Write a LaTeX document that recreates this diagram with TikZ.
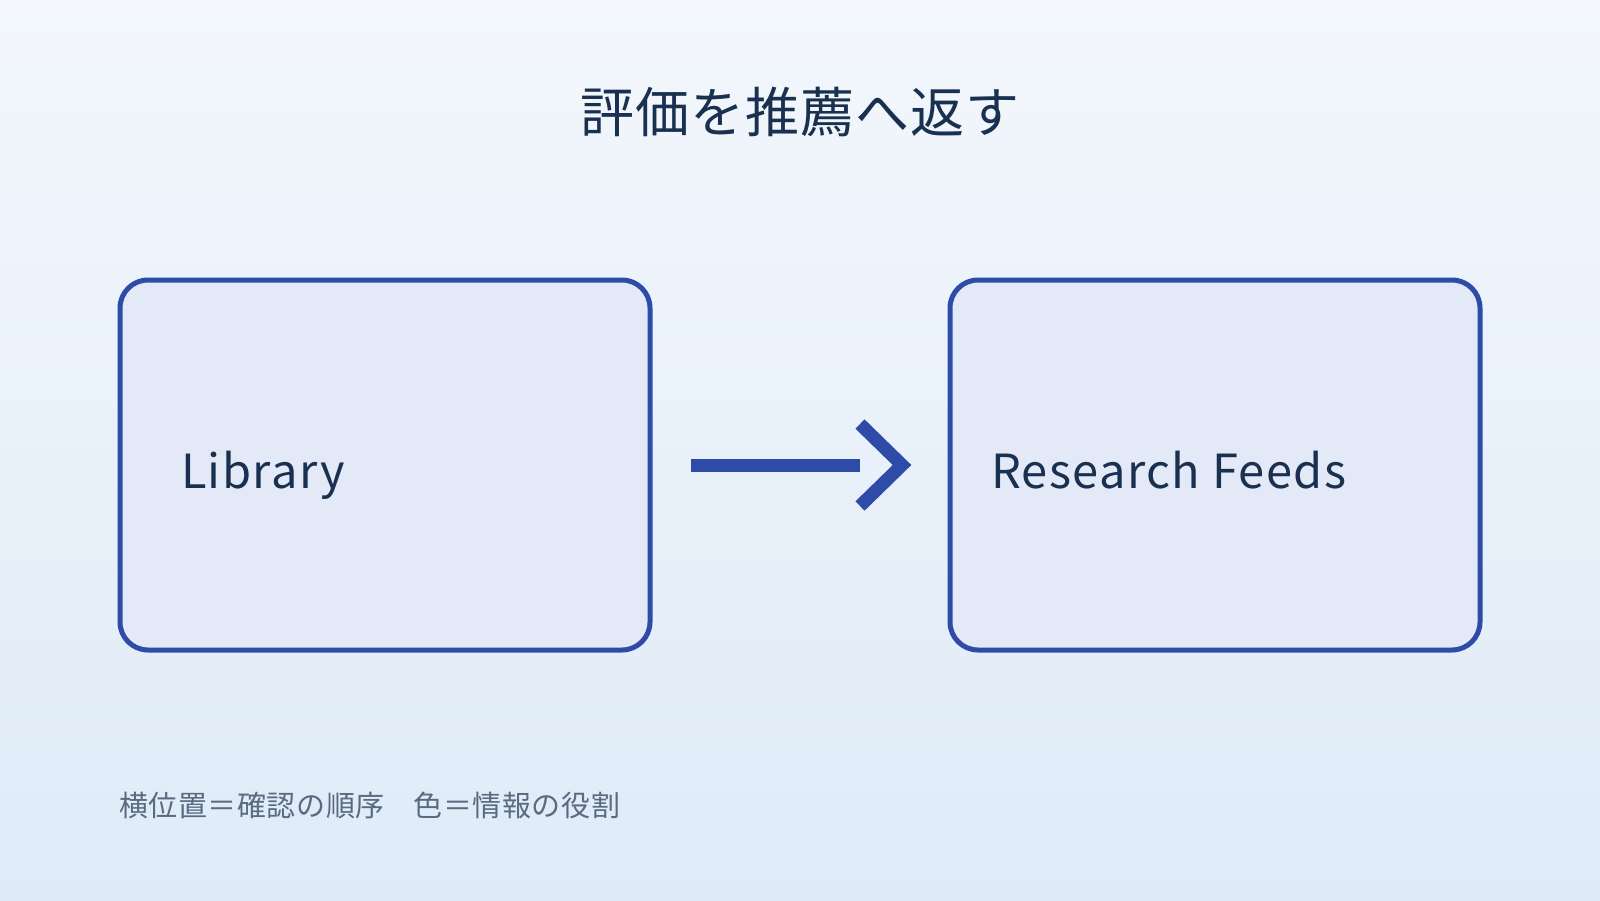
\documentclass[tikz,border=0pt]{standalone}
\usepackage{fontspec}
\setmainfont{Noto Sans CJK JP}
\begin{document}
\definecolor{bgtop}{HTML}{F3F7FC}
\definecolor{bgbot}{HTML}{DEEBF7}
\definecolor{boxfill}{HTML}{E3E9F6}
\definecolor{boxline}{HTML}{2F4BA8}
\definecolor{txt}{HTML}{1A3050}
\definecolor{foot}{HTML}{5A6A80}
\begin{tikzpicture}[x=0.5pt,y=-0.5pt,
  box/.style={draw=boxline,line width=2.5pt,fill=boxfill,rounded corners=14pt},
  lbl/.style={anchor=base west,text=txt,font=\fontsize{23.5pt}{26pt}\selectfont\addfontfeatures{LetterSpace=3}}]
\shade[top color=bgtop,bottom color=bgbot] (0,0) rectangle (1600,900);
\useasboundingbox (0,0) rectangle (1600,900);
\node[text=txt,font=\fontsize{27pt}{30pt}\selectfont\addfontfeatures{LetterSpace=2}] (title) at (800,112) {評価を推薦へ返す};
\draw[box] (120,280) rectangle (650,650);
\draw[box] (950,280) rectangle (1480,650);
\node[lbl] (lib) at (174,488) {Library};
\node[lbl] (rf) at (984,488) {Research Feeds};
\coordinate (a) at (691,465);
\coordinate (b) at (860,465);
\draw[boxline,line width=6.5pt] (a) -- (b);
\draw[boxline,line width=6.5pt,line join=miter] (860,424) -- (902,465) -- (860,506);
\node[anchor=west,text=foot,font=\fontsize{14.5pt}{16pt}\selectfont\addfontfeatures{LetterSpace=2}] (ft) at (112,805) {横位置＝確認の順序\quad 色＝情報の役割};
\end{tikzpicture}
\end{document}
